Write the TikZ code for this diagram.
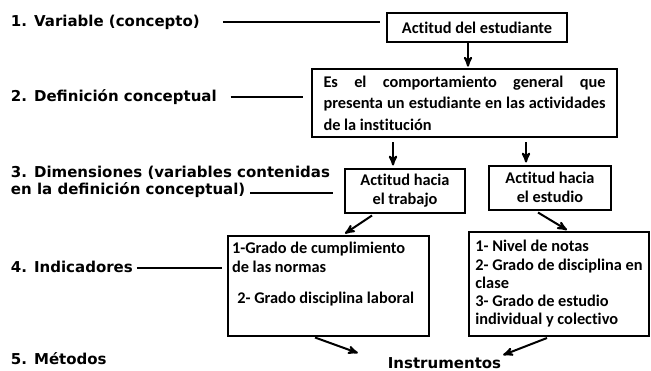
\documentclass[tikz,border=0pt]{standalone}
\usepackage{fontspec}
\setmainfont{Carlito}[Ligatures=NoCommon]
\newfontfamily\lblfont{DejaVu Sans}
\usetikzlibrary{arrows}

\begin{document}
\begin{tikzpicture}[x=0.75pt,y=-0.75pt,>=stealth',line width=1.5pt,
  lbl/.style={font=\lblfont\bfseries\fontsize{11.25}{13.5}\selectfont,inner sep=0pt},
  box/.style={draw,font=\bfseries\fontsize{12.25}{14.25}\selectfont,align=center,inner sep=0pt},
  txt/.style={font=\bfseries\fontsize{12.25}{14.25}\selectfont,align=left,inner sep=0pt}]
  \useasboundingbox (0,0) rectangle (651,371);

  % etiquetas de la izquierda
  \node[lbl,anchor=west] (var)  at (10,22)  {1. Variable (concepto)};
  \node[lbl,anchor=west] (def)  at (10,97)  {2. Definición conceptual};
  \node[lbl,anchor=west] (dim)  at (10,173) {3. Dimensiones (variables contenidas};
  \node[lbl,anchor=west] (dimb) at (10,190) {en la definición conceptual)};
  \node[lbl,anchor=west] (ind)  at (10,267) {4. Indicadores};
  \node[lbl,anchor=west] (met)  at (10,359) {5. Métodos};
  \node[lbl]             (instr) at (444.5,363) {Instrumentos};

  % cajas
  \node[box,minimum width=135pt,minimum height=22pt] (actitud) at (477,27.5) {Actitud del estudiante};
  \node[box,align=left,font=\bfseries\fontsize{12.25}{16}\selectfont,
        minimum width=229pt,minimum height=51pt] (concepto) at (464.5,103)
        {\makebox[211.5pt][s]{Es el comportamiento general que}\\
         \makebox[211.5pt][s]{presenta un estudiante en las actividades}\\
         de la institución};
  \node[box,minimum width=90pt,minimum height=33pt] (trabajo) at (405,190.5) {Actitud hacia\\el trabajo};
  \node[box,minimum width=91pt,minimum height=33pt] (estudio) at (550,187.5) {Actitud hacia\\el estudio};
  \node[box,minimum width=151pt,minimum height=75pt] (ind1) at (328.5,285.5) {};
  \node[txt,anchor=north west] (ind1t) at (231,241)
        {1-Grado de cumplimiento\\de las normas\\[9pt]\hspace*{4pt}2- Grado disciplina laboral};
  \node[box,align=left,font=\bfseries\fontsize{12.25}{13.7}\selectfont,
        minimum width=135pt,minimum height=78pt] (ind2) at (559,284)
        {1- Nivel de notas\\2- Grado de disciplina en\\clase\\3- Grado de estudio\\individual y colectivo};

  % lineas de las etiquetas
  \draw[shorten <=16.5pt,shorten >=4.5pt] (var.east) -- (var.east -| actitud.west);
  \draw[shorten <=9.75pt,shorten >=6pt] (def.east) -- (def.east -| concepto.west);
  \draw[shorten <=3pt,shorten >=8.25pt] ([shift={(0,3)}]dimb.east) -- ([shift={(0,3)}]dimb.east -| trabajo.west);
  \draw[shorten <=2.25pt,shorten >=3.75pt] ([shift={(0,1)}]ind.east) -- ([shift={(0,1)}]ind.east -| ind1.west);

  % flechas
  \draw[->,shorten >=1pt] ([shift={(-9,0)}]actitud.south) -- ([shift={(-9,0)}]actitud.south |- concepto.north);
  \draw[->,shorten <=3pt,shorten >=1.5pt] ([shift={(-12,0)}]trabajo.north |- concepto.south) -- ([shift={(-12,0)}]trabajo.north);
  \draw[->,shorten <=3pt,shorten >=1.5pt] ([shift={(-24,0)}]estudio.north |- concepto.south) -- ([shift={(-24,0)}]estudio.north);
  \draw[->] ([shift={(-33,2)}]trabajo.south) -- ([shift={(16.5,-1)}]ind1.north);
  \draw[->] ([shift={(-12,2)}]estudio.south) -- ([shift={(8,-1)}]ind2.north);
  \draw[->] ([shift={(-13.5,1)}]ind1.south) -- ([shift={(-29,-10)}]instr.west);
  \draw[->] ([shift={(-12,1)}]ind2.south) -- ([shift={(1,-8)}]instr.east);
\end{tikzpicture}
\end{document}
